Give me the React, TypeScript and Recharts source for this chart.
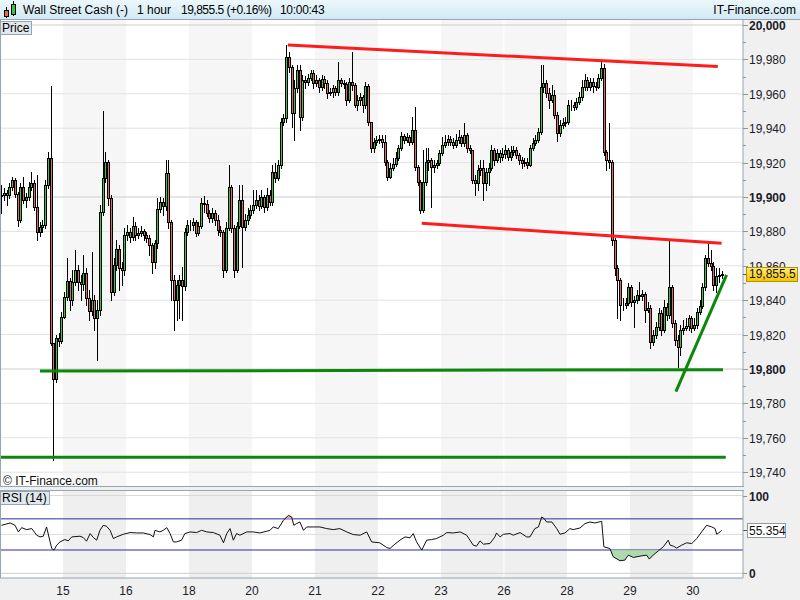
import React from "react";
import {
  ComposedChart,
  Bar,
  Line,
  Area,
  XAxis,
  YAxis,
  ReferenceArea,
  ReferenceLine,
} from "recharts";

// hourly candles, 23 per session (14th partial start, 30th partial end)
const firstOpen = 19900.5;

const closes = [
  19901, 19902.5, 19901, 19906, 19910, 19901.5, 19886.5, 19906, 19898.5, 19900, 19906, 19908, 19894, 19879.5, 19882.5, 19883.5, 19907, 19922.5, 19815, 19794, 19818, 19816.5, 19830,
  19842, 19851, 19840, 19850.5, 19857.5, 19850.5, 19849.5, 19856, 19841.5, 19833.5, 19840, 19829.5, 19834.5, 19891.5, 19911, 19920.5, 19899.5, 19845, 19860.5, 19870, 19858.5, 19857.5, 19878,
  19879.5, 19876.5, 19883, 19878, 19879, 19880, 19878, 19876, 19872, 19862, 19873.5, 19893, 19897, 19895, 19914, 19885.5, 19851.5, 19840, 19849, 19851.5, 19848.5, 19879.5, 19883.5,
  19883.5, 19885.5, 19879, 19883, 19896.5, 19896, 19890.5, 19888, 19890.5, 19886.5, 19881, 19879.5, 19857.5, 19882, 19906, 19882, 19857.5, 19883, 19898.5, 19882.5, 19886.5, 19889.5, 19892.5,
  19895.5, 19898.5, 19895, 19900, 19894, 19901, 19897, 19914.5, 19911, 19918.5, 19943.5, 19946, 19981.5, 19975.5, 19949, 19963.5, 19974, 19946.5, 19968, 19967, 19969, 19972, 19966.5,
  19968, 19964, 19968.5, 19966.5, 19960.5, 19961, 19963.5, 19961, 19968, 19966.5, 19965.5, 19956.5, 19967, 19965, 19953.5, 19956.5, 19958, 19953.5, 19964.5, 19943.5, 19928.5, 19932, 19933,
  19933.5, 19932, 19920.5, 19911.5, 19917, 19919, 19922.5, 19928.5, 19935.5, 19933, 19935, 19932, 19939, 19917.5, 19908.5, 19892.5, 19908.5, 19920.5, 19921.5, 19917.5, 19918.5, 19920, 19925.5,
  19930, 19932, 19933.5, 19932, 19930, 19933, 19935, 19931.5, 19936, 19928.5, 19927.5, 19910, 19908, 19915.5, 19917, 19908, 19914.5, 19917, 19927.5, 19921.5, 19925.5, 19923.5, 19925,
  19927.5, 19923.5, 19926, 19927.5, 19924.5, 19921.5, 19920, 19920.5, 19918.5, 19928.5, 19931.5, 19933, 19938, 19964, 19966.5, 19960.5, 19956.5, 19959.5, 19947.5, 19937, 19942, 19943, 19943.5,
  19953.5, 19953.5, 19952.5, 19955, 19958, 19964, 19968, 19964, 19967, 19964.5, 19964, 19969, 19975, 19926, 19921.5, 19920.5, 19875, 19858.5, 19851.5, 19837, 19837, 19838.5, 19847.5,
  19839, 19840, 19843, 19842.5, 19843.5, 19834.5, 19835.5, 19815.5, 19820, 19824.5, 19832.5, 19822.5, 19836, 19831.5, 19847.5, 19826.5, 19817, 19813, 19822.5, 19824, 19825, 19829.5, 19824,
  19825.5, 19833, 19836.5, 19847.5, 19864.5, 19861.5, 19860, 19849, 19854, 19854.5, 19855.5,
];

const highs = [
  19907, 19905, 19904, 19908, 19911.5, 19911, 19903, 19908, 19911.5, 19902.5, 19908.5, 19914.5, 19910, 19913, 19885.5, 19886.5, 19910, 19926, 19964.5, 19815, 19820, 19821, 19833,
  19845, 19864.5, 19853, 19857.5, 19869, 19860.5, 19854.5, 19866.5, 19858.5, 19846, 19868, 19843, 19840, 19895.5, 19950, 19926, 19921.5, 19901, 19864.5, 19875, 19872, 19862, 19882,
  19883.5, 19882, 19888.5, 19885.5, 19882, 19883, 19881.5, 19879.5, 19878, 19873.5, 19875, 19899.5, 19900, 19899.5, 19921.5, 19921.5, 19886.5, 19854.5, 19851.5, 19854.5, 19859.5, 19882, 19886.5,
  19886.5, 19888, 19886.5, 19885.5, 19899.5, 19900.5, 19898.5, 19892.5, 19893.5, 19892.5, 19889.5, 19883, 19881, 19885.5, 19918.5, 19907, 19883.5, 19885.5, 19907, 19907, 19890, 19893.5, 19895.5,
  19904, 19904, 19901, 19904, 19901, 19905, 19904, 19918.5, 19920, 19921.5, 19946, 19948.5, 19988.5, 19984.5, 19976.5, 19968, 19976.5, 19976.5, 19971, 19970.5, 19971.5, 19974, 19974,
  19971, 19969, 19971, 19970.5, 19968, 19963.5, 19965, 19964.5, 19978.5, 19969, 19968, 19967, 19969, 19984.5, 19966.5, 19959.5, 19960.5, 19959.5, 19967, 19965.5, 19943.5, 19934.5, 19935.5,
  19936, 19936, 19936, 19921.5, 19920, 19922.5, 19926, 19930, 19938, 19936.5, 19937, 19936, 19946.5, 19952.5, 19918.5, 19910, 19927.5, 19928.5, 19928.5, 19922.5, 19921.5, 19921.5, 19927.5,
  19935, 19936, 19936, 19935.5, 19934.5, 19936.5, 19939, 19936, 19943, 19937, 19930, 19927.5, 19913, 19918.5, 19921.5, 19921.5, 19917, 19920, 19930, 19928.5, 19928, 19927.5, 19928.5,
  19930, 19928.5, 19929.5, 19929.5, 19929, 19925.5, 19923.5, 19922.5, 19922.5, 19930, 19934.5, 19936, 19940, 19976.5, 19976.5, 19968, 19963.5, 19965, 19962, 19949.5, 19945, 19946, 19946.5,
  19956.5, 19956.5, 19955, 19957.5, 19961, 19968, 19971.5, 19970, 19969, 19969, 19967, 19971.5, 19978.5, 19977.5, 19927.5, 19943, 19921.5, 19876, 19860.5, 19853, 19841.5, 19841.5, 19850,
  19849, 19842.5, 19846, 19850.5, 19846, 19845, 19839, 19837, 19822.5, 19827.5, 19835.5, 19834.5, 19840, 19838.5, 19875, 19849, 19828.5, 19820, 19825.5, 19828.5, 19829.5, 19831.5, 19831,
  19829.5, 19835.5, 19840, 19850, 19866.5, 19873.5, 19869, 19862, 19858.5, 19858.5, 19857,
];

const lows = [
  19890.5, 19898.5, 19895.5, 19899.5, 19904, 19900, 19883, 19885.5, 19896.5, 19894, 19898.5, 19904, 19892.5, 19875, 19877.5, 19879.5, 19882, 19905, 19814, 19747, 19792.5, 19813.5, 19815,
  19829.5, 19840, 19834.5, 19837, 19849, 19846, 19840, 19846, 19837, 19828.5, 19831.5, 19822.5, 19805, 19831.5, 19889.5, 19908.5, 19895.5, 19840, 19843, 19857.5, 19846, 19849, 19854.5,
  19875, 19874, 19875, 19875, 19876, 19877.5, 19875, 19874, 19866.5, 19856, 19858.5, 19870.5, 19891.5, 19889.5, 19892.5, 19882, 19840, 19822.5, 19828.5, 19829.5, 19828.5, 19846, 19878,
  19881, 19881, 19877.5, 19878, 19882, 19891.5, 19889, 19885.5, 19885.5, 19883.5, 19878, 19877.5, 19853.5, 19856.5, 19881, 19879.5, 19853.5, 19856.5, 19882, 19859.5, 19881, 19884.5, 19888,
  19890.5, 19893.5, 19892.5, 19893.5, 19891.5, 19892.5, 19895.5, 19895.5, 19908.5, 19910, 19917, 19942, 19943.5, 19972.5, 19940.5, 19933, 19961, 19939, 19945, 19963.5, 19965, 19968, 19963.5,
  19964.5, 19961, 19962, 19963.5, 19957.5, 19959.5, 19958, 19959.5, 19959.5, 19964.5, 19963.5, 19953.5, 19955, 19962, 19952.5, 19950.5, 19953.5, 19949.5, 19951.5, 19942, 19926, 19926, 19930,
  19931.5, 19929, 19918.5, 19910, 19911, 19915.5, 19918, 19921.5, 19927.5, 19931.5, 19932, 19930, 19931, 19915.5, 19907, 19890.5, 19891.5, 19907, 19915.5, 19894, 19914.5, 19917, 19918.5,
  19924.5, 19929, 19930, 19930, 19928.5, 19929, 19931.5, 19929.5, 19929.5, 19926, 19925.5, 19908, 19901, 19904, 19913, 19898.5, 19904, 19907, 19915.5, 19918.5, 19920.5, 19920.5, 19921.5,
  19922.5, 19921.5, 19921.5, 19924.5, 19922.5, 19919, 19917, 19918, 19917, 19918, 19927.5, 19930, 19932, 19936.5, 19961, 19958, 19951.5, 19955, 19946, 19932.5, 19935.5, 19940, 19941.5,
  19942.5, 19950.5, 19950.5, 19951, 19954, 19956.5, 19962, 19962, 19962, 19961, 19962, 19963.5, 19968, 19924.5, 19915.5, 19917, 19872, 19854.5, 19829.5, 19828.5, 19834.5, 19835.5, 19837,
  19836.5, 19824.5, 19838.5, 19840, 19840, 19827.5, 19833, 19812, 19814, 19818, 19822.5, 19820, 19821.5, 19828.5, 19829.5, 19824.5, 19814, 19801, 19808, 19820.5, 19822.5, 19822.5, 19821.5,
  19822.5, 19824, 19832, 19835.5, 19846, 19860, 19857.5, 19846, 19845, 19850.5, 19853,
];

// RSI(14) read at candle positions
const rsiAt = [
  0, 3.2, 5, 6.2, 7.4, 9.2, 11.1, 12.9, 14.1, 15.3, 16.5, 17.8, 18.4, 19.2, 20.2, 21.4, 23.2, 24.4, 25.7, 28.7,
  29.9, 31.1, 32.4, 33.6, 34.8, 36, 37.2, 38.4, 39.7, 40.9, 42.1, 44.5, 47, 49.4, 51.8, 54.3, 55.5, 56.1, 57.9, 59.1,
  60.4, 61.6, 62.8, 64, 65.8, 67, 68.9, 71.3, 73.1, 75, 77.4, 79.8, 81.1, 82.3, 83.5, 84.7, 85.9, 87.1, 89.6, 92,
  94.4, 96.9, 98.1, 99.3, 101.1, 103, 104.8, 106, 106.8, 107.8, 109, 110.3, 111.5, 113.9, 116.3, 118.8, 121.2, 123.6, 126.1, 128.5,
  131, 133.4, 135.2, 138.2, 140.7, 141.9, 143.7, 145.5, 147.4, 149.2, 150.4, 151.6, 153.5, 155.3, 157.1, 158.9, 161.4, 162.6, 165, 167.5,
  169.9, 172.3, 173.5, 174.8, 176, 178.4, 180.2, 180.8, 182.1, 183.3, 185.7, 186.9, 189.4, 191.8, 193, 194.8, 196.1, 197.3, 198.2, 199.1,
  201, 202.8, 204, 205.8, 207.6, 208.8, 211.3, 213.1, 214.9, 216.7, 219.2, 220, 222.2, 223.4, 225.9, 227.7, 228.9, 230.8, 233.2, 235.6,
  236.6, 238, 239.9, 241.7, 243.5, 244.2, 245.4, 246.6, 248.4, 250.2, 252.1, 252.7, 253.9, 255.7, 257.5, 259.4, 260.6, 261.2, 262.4, 263,
];
const rsiVal = [
  61.7, 64.7, 61.7, 53.2, 58.7, 56.2, 57.5, 49, 46.8, 47.7, 59.6, 40.4, 31.9, 29.8, 36.2, 40.4, 43.4, 41.7, 46.8, 47.7,
  46, 41.3, 51.1, 46, 42.6, 55.3, 61.7, 60.5, 55.3, 44.7, 46.8, 50.2, 52.4, 51.9, 51.9, 49.8, 46.8, 55.3, 53.2, 55.3,
  58.7, 51.1, 40.4, 40.4, 42.6, 51.1, 53.2, 52.4, 55.3, 53.2, 52.4, 49, 39.2, 51.1, 57.5, 42.6, 51.1, 49, 53.2, 53.2,
  51.9, 54.1, 55.3, 59.6, 57.5, 68.1, 74.5, 72.4, 61.7, 63.9, 66, 55.3, 59.6, 59.6, 59.6, 57.5, 56.2, 57.5, 53.2, 49.8,
  49, 53.2, 40.4, 39.2, 33.2, 31.9, 37.5, 42.6, 46.8, 45.6, 51.1, 40.4, 29.8, 42.6, 43.4, 44.7, 49, 52.4, 51.9, 53.2,
  49, 36.2, 34.9, 41.7, 37.5, 38.3, 46.8, 51.9, 46.8, 50.2, 51.1, 49, 52.4, 46.8, 46.8, 57.5, 59.6, 72.4, 70.2, 66,
  66, 57.5, 50.2, 51.9, 57.5, 56.2, 58.3, 63.9, 66, 64.7, 66.8, 34.1, 31.9, 21.3, 16.2, 17, 23.4, 20.4, 22.1, 23.4,
  18.3, 23.4, 28.9, 34.1, 42.6, 36.2, 34.9, 32.4, 36.2, 39.2, 38.3, 40.4, 44.7, 53.2, 61.7, 59.6, 57.5, 50.2, 53.2, 55.354,
];

const dayStarts = [23, 46, 69, 92, 115, 138, 161, 184, 207, 230, 253];
const dayLabels = ["15", "16", "18", "20", "21", "22", "23", "26", "28", "29", "30"];
const shadedDays = [
  [23, 46],
  [69, 92],
  [115, 138],
  [161, 183.8],
  [184.2, 207],
  [230, 253],
];

const priceTicks = [
  19740, 19750, 19760, 19770, 19780, 19790, 19800, 19810, 19820, 19830, 19840, 19850, 19860, 19870,
  19880, 19890, 19900, 19910, 19920, 19930, 19940, 19950, 19960, 19970, 19980, 19990, 20000,
];

// drawn trend lines, in [slot, price] ends
const redLines = [
  [105.1, 19988.4, 262.1, 19975.8],
  [154.0, 19884.7, 263.5, 19873.1],
];
const greenLines = [
  [14.6, 19798.8, 264.0, 19799.6],
  [0, 19748.7, 265.0, 19748.7],
  [246.8, 19786.8, 265.3, 19854.7],
];

const lastPrice = 19855.5;
const lastRsi = 55.354;

const SLOTS = 271.3;
const PRICE_MIN = 19731.4;
const PRICE_MAX = 20002.9;
const PRICE_TOP = 20;
const PRICE_H = 467;
const FONT = "'Liberation Sans', Arial, sans-serif";

const candles = closes.map((c, i) => {
  const o = i === 0 ? firstOpen : closes[i - 1];
  const h = Math.max(highs[i], o, c);
  const l = Math.min(lows[i], o, c);
  return { x: i + 0.5, o, c, h, l, range: [l, h] };
});

const rsiData = rsiAt.map((a, k) => {
  const v = rsiVal[k];
  return { x: a + 0.5, v, lo: [Math.min(v, 30), 30], hi: [70, Math.max(v, 70)] };
});

const priceToY = (v: number) => PRICE_TOP + ((PRICE_MAX - v) / (PRICE_MAX - PRICE_MIN)) * PRICE_H;

function Candle(props: any) {
  const { x, y, width, height, payload } = props;
  if (!payload || y == null) return null;
  const top = Math.min(y, y + height);
  const hh = Math.abs(height);
  const { o, c, h, l } = payload;
  const span = h - l || 1;
  const py = (v: number) => top + ((h - v) / span) * hh;
  const cx = Math.round(x + width / 2);
  const bTop = Math.round(py(Math.max(o, c)));
  const bBot = Math.round(py(Math.min(o, c)));
  const up = c >= o;
  return (
    <g>
      <line x1={cx + 0.5} x2={cx + 0.5} y1={Math.round(top)} y2={Math.round(top + hh) + 1} stroke="#000" strokeWidth={1} />
      <rect
        x={cx - 0.5}
        y={bTop + 0.5}
        width={2}
        height={Math.max(bBot - bTop, 0)}
        fill={up ? "#36c936" : "#e46767"}
        stroke="#000"
        strokeWidth={1}
      />
    </g>
  );
}

function PriceTick(props: any) {
  const { x, y, payload } = props;
  const v = payload.value as number;
  const major = v % 20 === 0;
  const yy = Math.round(y) + 0.5;
  return (
    <g>
      <line x1={x} x2={x + (major ? 5 : 3)} y1={yy} y2={yy} stroke="#8a969f" />
      {major && (
        <text x={x + 6} y={yy + 4} fontSize={12} fontFamily={FONT} fontWeight={v % 100 === 0 ? 700 : 400} fill="#1c1c2a">
          {v.toLocaleString("en-US")}
        </text>
      )}
    </g>
  );
}

function RsiTick(props: any) {
  const { x, y, payload } = props;
  const yy = Math.round(y) + 0.5;
  return (
    <g>
      <line x1={x} x2={x + 4} y1={yy} y2={yy} stroke="#8a969f" />
      <text x={x + 6} y={yy + 4} fontSize={12} fontFamily={FONT} fontWeight={700} fill="#1c1c2a">
        {payload.value}
      </text>
    </g>
  );
}

function rsiBox(p: any) {
  const vb = p && p.viewBox;
  if (!vb) return null;
  const x0 = vb.x + vb.width;
  const yy = Math.round(vb.y) + 0.5;
  return (
    <g>
      <line x1={x0} x2={x0 + 4} y1={yy} y2={yy} stroke="#555" />
      <rect x={x0 + 4.5} y={yy - 7} width={38} height={14} fill="#fff" stroke="#8f9aa3" />
      <text x={x0 + 6} y={yy + 4} fontSize={12} fontFamily={FONT} fill="#111">
        {lastRsi}
      </text>
    </g>
  );
}

const border = "#95a5b1";

export default function App() {
  const lastY = Math.round(priceToY(lastPrice));
  return (
    <div
      style={{
        position: "absolute",
        left: 0,
        top: 0,
        width: 800,
        height: 600,
        background: "#f0f0f0",
        fontFamily: FONT,
        overflow: "hidden",
      }}
    >
      {/* title bar */}
      <div
        style={{
          position: "absolute",
          left: 0,
          top: 0,
          width: 800,
          height: 19,
          background: "linear-gradient(#ecf7fc, #d2e9f3)",
          borderBottom: `1px solid ${border}`,
          fontSize: 12,
          color: "#000",
          whiteSpace: "nowrap",
        }}
      >
        <svg width={18} height={18} style={{ position: "absolute", left: 2, top: 1 }}>
          <line x1={4.5} x2={4.5} y1={6} y2={17} stroke="#000" />
          <rect x={2.5} y={9.5} width={4} height={6} fill="#e46767" stroke="#000" />
          <line x1={11.5} x2={11.5} y1={0} y2={15} stroke="#000" />
          <rect x={9.5} y={3.5} width={4} height={10} fill="#36c936" stroke="#000" />
        </svg>
        <span style={{ position: "absolute", left: 23, top: 3 }}>Wall Street Cash (-)</span>
        <span style={{ position: "absolute", left: 137, top: 3 }}>1 hour</span>
        <span style={{ position: "absolute", left: 181, top: 3, letterSpacing: -0.5 }}>19,855.5 (+0.16%)</span>
        <span style={{ position: "absolute", left: 280, top: 3, letterSpacing: -0.3 }}>10:00:43</span>
        <span style={{ position: "absolute", right: 4, top: 3 }}>IT-Finance.com</span>
      </div>

      {/* price panel */}
      <div style={{ position: "absolute", left: 0, top: 20, width: 743, height: 467, background: "#fff" }} />
      <div style={{ position: "absolute", left: 0, top: PRICE_TOP }}>
        <ComposedChart width={800} height={PRICE_H} data={candles} margin={{ top: 0, right: 0, bottom: 0, left: 0 }}>
          <XAxis dataKey="x" type="number" domain={[0, SLOTS]} hide allowDataOverflow />
          <YAxis
            orientation="right"
            width={57}
            type="number"
            domain={[PRICE_MIN, PRICE_MAX]}
            allowDataOverflow
            ticks={priceTicks}
            interval={0}
            tick={<PriceTick />}
            tickLine={false}
            tickSize={0}
            tickMargin={0}
            axisLine={{ stroke: border }}
          />
          {shadedDays.map(([a, b], k) => (
            <ReferenceArea key={`d${k}`} x1={a} x2={b} fill="#f6f6f6" fillOpacity={1} stroke="none" ifOverflow="hidden" zIndex={-120} />
          ))}
          {priceTicks
            .filter((v) => v % 20 === 0)
            .map((v) => (
              <ReferenceLine key={`g${v}`} y={v} stroke={v % 100 === 0 ? "#cdcdcd" : "#e3e3e3"} strokeWidth={1} zIndex={-90} />
            ))}
          <Bar dataKey="range" barSize={3} shape={<Candle />} isAnimationActive={false} />
          {redLines.map(([x1, y1, x2, y2], k) => (
            <ReferenceLine
              key={`r${k}`}
              segment={[
                { x: x1, y: y1 },
                { x: x2, y: y2 },
              ]}
              stroke="#ff1c1c"
              strokeWidth={3}
              ifOverflow="visible"
            />
          ))}
          {greenLines.map(([x1, y1, x2, y2], k) => (
            <ReferenceLine
              key={`gr${k}`}
              segment={[
                { x: x1, y: y1 },
                { x: x2, y: y2 },
              ]}
              stroke="#0b870b"
              strokeWidth={3}
              ifOverflow="visible"
            />
          ))}
        </ComposedChart>
      </div>
      <div style={{ position: "absolute", left: 0, top: 20, width: 1, height: 467, background: border }} />
      <div style={{ position: "absolute", left: 0, top: 486, width: 744, height: 1, background: border }} />

      {/* last price marker, drawn over the axis labels */}
      <div style={{ position: "absolute", left: 743, top: lastY, width: 4, height: 1, background: "#555" }} />
      <div
        style={{
          position: "absolute",
          left: 746,
          top: lastY - 7,
          width: 48,
          height: 13,
          background: "linear-gradient(#ffec70, #f5c400)",
          border: "1px solid #b89000",
          fontSize: 12,
          lineHeight: "13px",
          paddingLeft: 2,
          color: "#111",
          whiteSpace: "nowrap",
        }}
      >
        {lastPrice.toLocaleString("en-US", { minimumFractionDigits: 1 })}
      </div>

      <div
        style={{
          position: "absolute",
          left: 0,
          top: 21,
          height: 12,
          background: "#e2e9ee",
          border: `1px solid ${border}`,
          fontSize: 12,
          lineHeight: "12px",
          padding: "0 2px 0 1px",
          whiteSpace: "nowrap",
        }}
      >
        Price
      </div>
      <div style={{ position: "absolute", left: 3, top: 474, fontSize: 12, color: "#111", whiteSpace: "nowrap" }}>
        © IT-Finance.com
      </div>

      {/* RSI panel */}
      <div style={{ position: "absolute", left: 0, top: 491, width: 743, height: 87, background: "#fff" }} />
      <div style={{ position: "absolute", left: 0, top: 491 }}>
        <ComposedChart width={800} height={109} data={rsiData} margin={{ top: 0, right: 0, bottom: 0, left: 0 }}>
          <XAxis
            dataKey="x"
            type="number"
            domain={[0, SLOTS]}
            allowDataOverflow
            ticks={dayStarts}
            interval={0}
            tickFormatter={(v: number) => dayLabels[dayStarts.indexOf(v)] ?? ""}
            tick={{ fontSize: 12, fill: "#1c1c2a", fontFamily: FONT }}
            tickLine={false}
            axisLine={{ stroke: border }}
            height={22}
          />
          <YAxis
            orientation="right"
            width={57}
            type="number"
            domain={[-6, 105.8]}
            allowDataOverflow
            ticks={[0, 100]}
            interval={0}
            tick={<RsiTick />}
            tickLine={false}
            tickSize={0}
            tickMargin={0}
            axisLine={{ stroke: border }}
          />
          {shadedDays.map(([a, b], k) => (
            <ReferenceArea key={`rd${k}`} x1={a} x2={b} fill="#efefef" fillOpacity={1} stroke="none" ifOverflow="hidden" zIndex={-120} />
          ))}
          <ReferenceLine y={100} stroke="#d9d9d9" zIndex={-90} />
          <ReferenceLine y={50} stroke="#dedede" zIndex={-90} />
          <ReferenceLine y={0} stroke="#d0d0d0" zIndex={-90} />
          <ReferenceLine y={70} stroke="#2b2ba0" zIndex={-80} />
          <ReferenceLine y={30} stroke="#2b2ba0" zIndex={-80} />
          <Area dataKey="lo" type="linear" fill="#a6d6a6" fillOpacity={0.9} stroke="none" isAnimationActive={false} />
          <Area dataKey="hi" type="linear" fill="#e3a3a3" fillOpacity={0.9} stroke="none" isAnimationActive={false} />
          <Line dataKey="v" type="linear" stroke="#111" strokeWidth={1} dot={false} isAnimationActive={false} />
          <ReferenceLine y={lastRsi} stroke="none" label={rsiBox} ifOverflow="visible" />
        </ComposedChart>
      </div>
      <div style={{ position: "absolute", left: 0, top: 490, width: 744, height: 1, background: border }} />
      <div style={{ position: "absolute", left: 0, top: 490, width: 1, height: 88, background: border }} />
      <div
        style={{
          position: "absolute",
          left: 0,
          top: 491,
          height: 12,
          background: "#e2e9ee",
          border: `1px solid ${border}`,
          fontSize: 12,
          lineHeight: "12px",
          padding: "0 2px 0 1px",
          whiteSpace: "nowrap",
        }}
      >
        RSI (14)
      </div>
    </div>
  );
}
